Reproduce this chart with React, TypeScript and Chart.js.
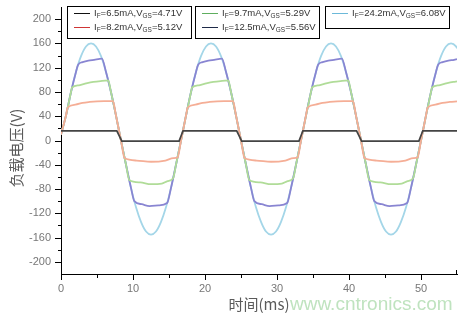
import React, { useEffect, useRef } from 'react';
import { Chart, registerables } from 'chart.js';

Chart.register(...registerables);

// ---------- data ----------
const xTickValues = [0, 10, 20, 30, 40, 50];
const yTickValues = [-200, -160, -120, -80, -40, 0, 40, 80, 120, 160, 200];

const xTitle = '时间(ms)';
const yTitle = '负载电压(V)';
const watermark = 'www.cntronics.com';

const legendIF = ['6.5', '8.2', '9.7', '12.5', '24.2'];
const legendVGS = ['4.71', '5.12', '5.29', '5.56', '6.08'];

// IF = 6.5 mA (black)
const blackT = [0, 7.75, 8.45, 16.4, 16.95, 24.4, 25.1, 33.05, 33.6, 41.05, 41.75, 49.7, 50.25, 55];
const blackV = [16, 16, -1, -1, 16, 16, -1, -1, 16, 16, -1, -1, 16, 16];

// IF = 8.2 mA (red)
const redT = [
  0, 0.69, 0.91, 2, 3, 4, 5, 6, 7.22, 7.64, 8.33, 8.83, 10.5, 12.5, 14.5, 15.6, 16.19,
  16.67, 17.36, 17.58, 18.67, 19.67, 20.67, 21.67, 22.67, 23.89, 24.31, 25, 25.5, 27.17, 29.17, 31.17, 32.27, 32.86,
  33.33, 34.02, 34.24, 35.33, 36.33, 37.33, 38.33, 39.33, 40.55, 40.97, 41.67, 42.16, 43.83, 45.83, 47.83, 48.93, 49.52,
  50, 50.69, 50.91, 52, 53, 54, 55,
];
const redV = [
  10, 41, 54, 59, 62, 63.5, 64.5, 65, 65, 41, 0, -29, -33, -35, -33, -29, -28,
  0, 41, 54, 59, 62, 63.5, 64.5, 65, 65, 41, 0, -29, -33, -35, -33, -29, -28,
  0, 41, 54, 59, 62, 63.5, 64.5, 65, 65, 41, 0, -29, -33, -35, -33, -29, -28,
  0, 41, 54, 59, 62, 63.5, 64.5,
];

// IF = 9.7 mA (green)
const greenT = [
  0, 0.69, 1.39, 1.52, 2.5, 3.5, 4.5, 5.5, 6.56, 6.94, 7.64, 8.33, 9.03, 9.48, 11, 12.5, 14, 14.8, 15.58, 15.97,
  16.67, 17.36, 18.06, 18.19, 19.17, 20.17, 21.17, 22.17, 23.23, 23.61, 24.31, 25, 25.69, 26.15, 27.67, 29.17, 30.67, 31.47, 32.25, 32.64,
  33.33, 34.03, 34.72, 34.85, 35.83, 36.83, 37.83, 38.83, 39.89, 40.28, 40.97, 41.67, 42.36, 42.81, 44.33, 45.83, 47.33, 48.13, 48.91, 49.31,
  50, 50.69, 51.39, 51.52, 52.5, 53.5, 54.5, 55,
];
const greenV = [
  10, 41, 80, 87, 91, 94, 96.5, 98, 99, 80, 41, 0, -40, -65, -69, -72, -71, -67, -62, -40,
  0, 41, 80, 87, 91, 94, 96.5, 98, 99, 80, 41, 0, -40, -65, -69, -72, -71, -67, -62, -40,
  0, 41, 80, 87, 91, 94, 96.5, 98, 99, 80, 41, 0, -40, -65, -69, -72, -71, -67, -62, -40,
  0, 41, 80, 87, 91, 94, 96.5, 97.3,
];

// IF = 12.5 mA (purple)
const purpleT = [
  0, 0.69, 1.39, 2.08, 2.38, 3, 3.8, 4.6, 5.67, 6.25, 6.94, 7.64, 8.33, 9.03, 9.72, 10.19, 11.2, 12.3, 13.5, 14.74, 15.28, 15.97,
  16.67, 17.36, 18.06, 18.75, 19.05, 19.67, 20.47, 21.27, 22.34, 22.92, 23.61, 24.31, 25, 25.7, 26.39, 26.86, 27.87, 28.97, 30.17, 31.41, 31.95, 32.64,
  33.33, 34.02, 34.72, 35.41, 35.71, 36.33, 37.13, 37.93, 39, 39.58, 40.27, 40.97, 41.67, 42.36, 43.05, 43.52, 44.53, 45.63, 46.83, 48.07, 48.61, 49.3,
  50, 50.69, 51.39, 52.08, 52.38, 53, 53.8, 54.6, 55,
];
const purpleV = [
  10, 41, 80, 113, 125, 129, 131.5, 133, 135, 113, 80, 41, 0, -40, -78, -100, -105, -108, -107, -103, -78, -40,
  0, 41, 80, 113, 125, 129, 131.5, 133, 135, 113, 80, 41, 0, -40, -78, -100, -105, -108, -107, -103, -78, -40,
  0, 41, 80, 113, 125, 129, 131.5, 133, 135, 113, 80, 41, 0, -40, -78, -100, -105, -108, -107, -103, -78, -40,
  0, 41, 80, 113, 125, 129, 131.5, 133, 134,
];

// IF = 24.2 mA (light blue)
const blueT = [
  0, 0.69, 1.39, 2.08, 2.78, 3.47, 4.17, 4.86, 5.56, 6.25, 6.94, 7.64, 8.33, 9.03, 9.72, 10.42, 11.11, 11.81, 12.5, 13.19, 13.89, 14.58, 15.28, 15.97,
  16.67, 17.36, 18.06, 18.75, 19.44, 20.14, 20.83, 21.53, 22.22, 22.92, 23.61, 24.31, 25, 25.69, 26.39, 27.08, 27.78, 28.47, 29.17, 29.86, 30.56, 31.25, 31.94, 32.64,
  33.33, 34.03, 34.72, 35.42, 36.11, 36.81, 37.5, 38.19, 38.89, 39.58, 40.28, 40.97, 41.67, 42.36, 43.06, 43.75, 44.44, 45.14, 45.83, 46.53, 47.22, 47.92, 48.61, 49.31,
  50, 50.69, 51.39, 52.08, 52.78, 53.47, 54.17, 54.86, 55,
];
const blueV = [
  10, 41, 80, 113, 139, 155, 160, 155, 139, 113, 80, 41, 0, -40, -78, -110, -134, -150, -155, -150, -134, -110, -78, -40,
  0, 41, 80, 113, 139, 155, 160, 155, 139, 113, 80, 41, 0, -40, -78, -110, -134, -150, -155, -150, -134, -110, -78, -40,
  0, 41, 80, 113, 139, 155, 160, 155, 139, 113, 80, 41, 0, -40, -78, -110, -134, -150, -155, -150, -134, -110, -78, -40,
  0, 41, 80, 113, 139, 155, 160, 155, 152,
];

// ---------- styles ----------
const SANS = '"Liberation Sans", Arial, sans-serif';
const CJK = '"Noto Sans CJK SC", sans-serif';
const plotColors = ['#444444', '#f5ae96', '#b0dc98', '#8985d2', '#a4d6e8'];
const legendColors = ['#111111', '#cf3535', '#5fae5f', '#1e2a48', '#6cb9d9'];

const pts = (t: number[], v: number[]) => t.map((x, i) => ({ x, y: v[i] }));

function drawLabel(ctx: CanvasRenderingContext2D, x: number, y: number, ifv: string, vgs: string, size: number) {
  const parts: [string, boolean][] = [
    ['I', false], ['F', true], ['=' + ifv + 'mA,V', false], ['GS', true], ['=' + vgs + 'V', false],
  ];
  let cx = x;
  ctx.textAlign = 'left';
  ctx.textBaseline = 'middle';
  for (const [s, sub] of parts) {
    const fs = sub ? size * 0.68 : size;
    ctx.font = `${fs}px ${SANS}`;
    ctx.fillText(s, cx, sub ? y + size * 0.28 : y);
    cx += ctx.measureText(s).width;
  }
}

const decorPlugin = {
  id: 'decor',
  afterDraw(chart: any) {
    const ctx: CanvasRenderingContext2D = chart.ctx;
    const xs = chart.scales.x;
    const ys = chart.scales.y;
    const a = chart.chartArea;
    ctx.save();
    // ticks
    ctx.strokeStyle = '#000';
    ctx.lineWidth = 1;
    ctx.beginPath();
    for (let v = -200; v <= 200; v += 20) {
      const py = Math.round(ys.getPixelForValue(v)) + 0.5;
      const len = v % 40 === 0 ? 6 : 3;
      ctx.moveTo(a.left - len, py);
      ctx.lineTo(a.left, py);
    }
    for (let v = 0; v <= 50; v += 5) {
      const px = Math.round(xs.getPixelForValue(v)) + 0.5;
      const len = v % 10 === 0 ? 6 : 4;
      ctx.moveTo(px, a.bottom);
      ctx.lineTo(px, a.bottom + len);
    }
    const pe = Math.round(xs.getPixelForValue(55)) - 0.5;
    ctx.moveTo(pe, a.bottom - 4);
    ctx.lineTo(pe, a.bottom);
    ctx.stroke();

    // axis titles
    ctx.fillStyle = '#5a5a5a';
    ctx.textAlign = 'center';
    ctx.textBaseline = 'middle';
    ctx.font = `15px ${CJK}`;
    ctx.fillText(xTitle, 259, 304);
    ctx.save();
    ctx.translate(16, 148);
    ctx.rotate(-Math.PI / 2);
    ctx.fillText(yTitle, 0, 0);
    ctx.restore();

    // watermark
    ctx.fillStyle = '#bfe3bf';
    ctx.textAlign = 'left';
    ctx.font = `19px ${SANS}`;
    ctx.fillText(watermark, 290, 305);

    // legend boxes
    const boxes = [
      { x: 67, y: 6, w: 124, h: 32, items: [0, 1] },
      { x: 195, y: 6, w: 124, h: 32, items: [2, 3] },
      { x: 325, y: 6, w: 124, h: 22, items: [4] },
    ];
    for (const b of boxes) {
      ctx.fillStyle = '#fff';
      ctx.fillRect(b.x, b.y, b.w, b.h);
      ctx.strokeStyle = '#000';
      ctx.lineWidth = 1;
      ctx.strokeRect(b.x + 0.5, b.y + 0.5, b.w, b.h);
      b.items.forEach((idx, r) => {
        const ry = b.y + 7 + r * 14;
        ctx.strokeStyle = legendColors[idx];
        ctx.lineWidth = 1;
        ctx.beginPath();
        ctx.moveTo(b.x + 7, ry + 0.5);
        ctx.lineTo(b.x + 23, ry + 0.5);
        ctx.stroke();
        ctx.fillStyle = '#333';
        drawLabel(ctx, b.x + 27, ry + 0.5, legendIF[idx], legendVGS[idx], 9.5);
      });
    }
    ctx.restore();
  },
};

export default function App() {
  const ref = useRef<HTMLCanvasElement>(null);
  useEffect(() => {
    if (!ref.current) return;
    const series = [
      { t: blackT, v: blackV, mode: 'linear' },
      { t: redT, v: redV, mode: 'monotone' },
      { t: greenT, v: greenV, mode: 'monotone' },
      { t: purpleT, v: purpleV, mode: 'monotone' },
      { t: blueT, v: blueV, mode: 'monotone' },
    ];
    const chart = new Chart(ref.current, {
      type: 'line',
      data: {
        datasets: series.map((s, i) => ({
          label: 'IF=' + legendIF[i] + 'mA',
          data: pts(s.t, s.v),
          borderColor: plotColors[i],
          borderWidth: i === 0 ? 1.7 : 1.8,
          pointRadius: 0,
          fill: false,
          tension: 0,
          cubicInterpolationMode: s.mode === 'monotone' ? 'monotone' : 'default',
        })),
      },
      options: {
        responsive: false,
        animation: false,
        layout: { padding: { top: 7, right: 5, left: 0, bottom: 0 } },
        plugins: { legend: { display: false }, tooltip: { enabled: false } },
        scales: {
          x: {
            type: 'linear',
            min: 0,
            max: 55,
            afterBuildTicks: (s: any) => { s.ticks = xTickValues.map((value) => ({ value })); },
            afterFit: (s: any) => { s.height = 47; s.paddingLeft = 0; s.paddingRight = 0; },
            grid: { drawOnChartArea: false, drawTicks: false },
            border: { display: true, color: '#000', width: 1 },
            ticks: { color: '#777', font: { size: 11, family: SANS }, padding: 8, maxRotation: 0, autoSkip: false },
          },
          y: {
            type: 'linear',
            min: -220,
            max: 220,
            afterBuildTicks: (s: any) => { s.ticks = yTickValues.map((value) => ({ value })); },
            afterFit: (s: any) => { s.width = 61; s.paddingTop = 0; s.paddingBottom = 0; },
            grid: { drawOnChartArea: false, drawTicks: false },
            border: { display: true, color: '#000', width: 1 },
            ticks: { color: '#777', font: { size: 11, family: SANS }, padding: 10, autoSkip: false },
          },
        },
      },
      plugins: [decorPlugin],
    } as any);
    return () => chart.destroy();
  }, []);
  return (
    <div style={{ position: 'absolute', left: 0, top: 0, width: 462, height: 321, background: '#fff' }}>
      <canvas ref={ref} width={462} height={321} />
    </div>
  );
}
